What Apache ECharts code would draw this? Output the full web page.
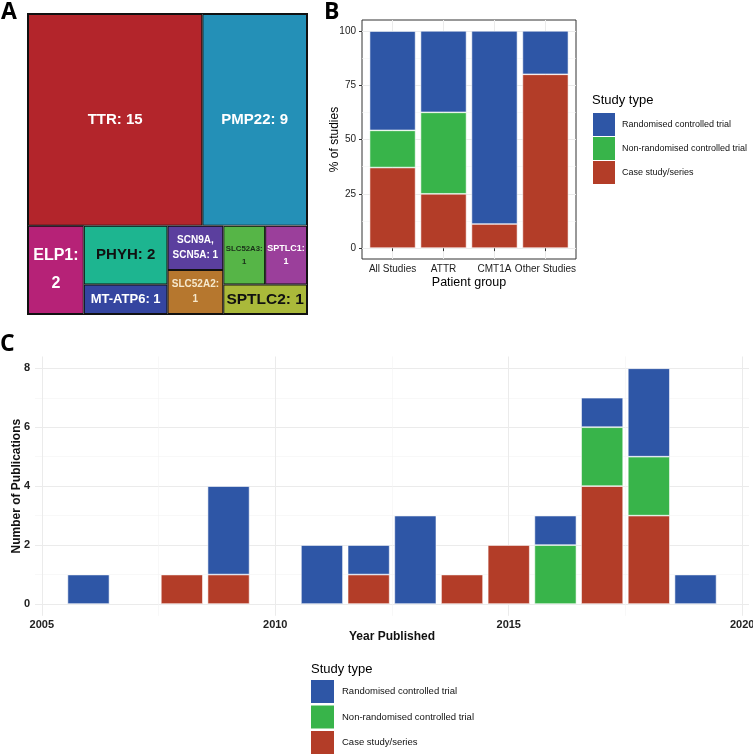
<!DOCTYPE html>
<html lang="en">
<head>
    <meta charset="UTF-8">
    <title>Studies by gene, patient group and year</title>
    <script src="https://cdn.jsdelivr.net/npm/echarts@6/dist/echarts.min.js"></script>
    <style>
        html, body { margin: 0; padding: 0; background: #fff; }
        #main { width: 753px; height: 755px; }
    </style>
</head>
<body>
<div id="main"></div>
<script type="text/javascript">
    // A: number of studies per gene
    var genes = ['TTR', 'PMP22', 'ELP1', 'PHYH', 'MT-ATP6', 'SCN9A, SCN5A', 'SLC52A2', 'SLC52A3', 'SPTLC1', 'SPTLC2'];
    var geneStudies = [15, 9, 2, 2, 1, 1, 1, 1, 1, 1];
    // nesting of the tiles (indexes into genes), so the squarify gives the same rows as the figure
    var tiling = [[0, 1], [2, [3, 4], [5, 6], [[7, 8], 9]]];

    // B: % of studies by patient group
    var patientGroups = ['All Studies', 'ATTR', 'CMT1A', 'Other Studies'];
    var pctRct = [45.7, 37.5, 88.9, 20];
    var pctNonRct = [17.1, 37.5, 0, 0];
    var pctCase = [37.1, 25, 11.1, 80];
    var pctTicks = [0, 25, 50, 75, 100];

    // C: publications per year
    var years = [2006, 2008, 2009, 2011, 2012, 2013, 2014, 2015, 2016, 2017, 2018, 2019];
    var pubRct = [1, 0, 3, 2, 1, 3, 0, 0, 1, 1, 3, 1];
    var pubNonRct = [0, 0, 0, 0, 0, 0, 0, 0, 2, 2, 2, 0];
    var pubCase = [0, 1, 1, 0, 1, 0, 1, 2, 0, 4, 3, 0];
    var yearTicks = [2005, 2010, 2015, 2020];
    var pubTicks = [0, 2, 4, 6, 8];

    var studyTypes = ['Randomised controlled trial', 'Non-randomised controlled trial', 'Case study/series'];

    var FONT = 'Liberation Sans';
    var typeColors = {
        'Randomised controlled trial': '#2E56A6',
        'Non-randomised controlled trial': '#38B44A',
        'Case study/series': '#B33D28'
    };

    // tile colours / label look
    var tileStyle = {
        'TTR': {color: '#B3252B', size: 15, text: '#fff'},
        'PMP22': {color: '#2490B7', size: 15, text: '#fff'},
        'ELP1': {color: '#B62277', size: 16, text: '#fff', wrap: true, lh: 28},
        'PHYH': {color: '#1DB590', size: 15, text: '#111'},
        'MT-ATP6': {color: '#3545A0', size: 13, text: '#fff'},
        'SCN9A, SCN5A': {color: '#5B3F9E', size: 10, text: '#fff', lh: 15},
        'SLC52A2': {color: '#B6772E', size: 10, text: '#F6E8CC', wrap: true, lh: 15},
        'SLC52A3': {color: '#56B547', size: 7.8, text: '#1A2E1A', wrap: true, lh: 13},
        'SPTLC1': {color: '#9B3F9B', size: 9, text: '#fff', wrap: true, lh: 13},
        'SPTLC2': {color: '#AAB93A', size: 15.5, text: '#111'}
    };

    function buildNode(t) {
        if (Array.isArray(t)) {
            return {name: '', children: t.map(buildNode), itemStyle: {borderWidth: 0, gapWidth: 0}};
        }
        var s = tileStyle[genes[t]];
        return {
            name: genes[t],
            value: geneStudies[t],
            itemStyle: {color: s.color, borderColor: '#111', borderWidth: 1},
            label: {fontSize: s.size, color: s.text, lineHeight: s.lh || s.size * 1.3}
        };
    }

    function tileLabel(p) {
        var s = tileStyle[p.name];
        if (!s) return '';
        if (p.name.indexOf(', ') > 0) return p.name.replace(', ', ',\n') + ': ' + p.value;
        return p.name + ':' + (s.wrap ? '\n' : ' ') + p.value;
    }

    // [value, position] rows; value first so the stack sums the value, zero -> no bar
    function rows(xs, vals) {
        return xs.map(function (x, i) { return [vals[i] > 0 ? vals[i] : null, x]; });
    }

    var groupPos = patientGroups.map(function (g, i) { return i + 1; });

    function barSeries(name, xi, yi, stack, data, width) {
        return {
            name: name, type: 'bar', xAxisIndex: xi, yAxisIndex: yi, stack: stack,
            encode: {x: 1, y: 0},
            barWidth: width, data: data,
            itemStyle: {color: typeColors[name], borderColor: 'rgba(255,255,255,0.8)', borderWidth: 0.7},
            emphasis: {disabled: true}
        };
    }

    var gridLine = {show: true, lineStyle: {color: '#EBEBEB', width: 1}};
    var minorLine = {show: true, lineStyle: {color: '#F4F4F4', width: 0.6}};

    var myChart = echarts.init(document.getElementById('main'));

    var option = {
        animation: false,
        backgroundColor: '#fff',
        textStyle: {fontFamily: FONT},
        grid: [
            {left: 362, top: 20, width: 214, height: 239, show: true, borderColor: '#333', borderWidth: 1, outerBoundsMode: 'none'},
            {left: 35, top: 356.5, width: 714, height: 259.3, outerBoundsMode: 'none'}
        ],
        xAxis: [
            {
                gridIndex: 0, type: 'value', min: 0.4, max: 4.6,
                axisLine: {show: false},
                axisTick: {show: true, length: 3, customValues: groupPos, lineStyle: {color: '#333'}},
                axisLabel: {
                    customValues: groupPos, margin: 5, fontSize: 10, color: '#222', fontFamily: FONT,
                    formatter: function (v) { return patientGroups[v - 1]; }
                },
                splitLine: gridLine,
                name: 'Patient group', nameLocation: 'middle', nameGap: 17, nameMoveOverlap: false,
                nameTextStyle: {fontSize: 12.5, color: '#000', fontFamily: FONT}
            },
            {
                gridIndex: 1, type: 'value', min: 2004.855, max: 2020.145, splitNumber: 3,
                axisLine: {show: false},
                axisTick: {show: false, customValues: yearTicks},
                axisLabel: {
                    customValues: yearTicks, margin: 4, fontSize: 11, fontWeight: 'bold', color: '#222', fontFamily: FONT,
                    formatter: function (v) { return String(v); }
                },
                splitLine: gridLine,
                minorTick: {show: false, splitNumber: 2},
                minorSplitLine: minorLine,
                name: 'Year Published', nameLocation: 'middle', nameGap: 15, nameMoveOverlap: false,
                nameTextStyle: {fontSize: 12, fontWeight: 'bold', color: '#111', fontFamily: FONT}
            }
        ],
        yAxis: [
            {
                gridIndex: 0, type: 'value', min: -5, max: 105,
                axisLine: {show: false},
                axisTick: {show: true, length: 3, customValues: pctTicks, lineStyle: {color: '#333'}},
                axisLabel: {customValues: pctTicks, margin: 6, fontSize: 10, color: '#222', fontFamily: FONT},
                splitLine: gridLine,
                name: '% of studies', nameLocation: 'middle', nameGap: 21, nameMoveOverlap: false,
                nameTextStyle: {fontSize: 12, color: '#000', fontFamily: FONT}
            },
            {
                gridIndex: 1, type: 'value', min: -0.4, max: 8.4,
                axisLine: {show: false},
                axisTick: {show: false, customValues: pubTicks},
                axisLabel: {customValues: pubTicks, margin: 5, fontSize: 11, fontWeight: 'bold', color: '#222', fontFamily: FONT},
                splitLine: gridLine,
                minorTick: {show: false, splitNumber: 2},
                minorSplitLine: minorLine,
                name: 'Number of Publications', nameLocation: 'middle', nameGap: 12, nameMoveOverlap: false,
                nameTextStyle: {fontSize: 12, fontWeight: 'bold', color: '#111', fontFamily: FONT}
            },
            {
                // helper axis for the minor gridlines of B (12.5, 37.5, 62.5, 87.5), in units of 25 offset by 12.5
                gridIndex: 0, type: 'value', min: -0.7, max: 3.7,
                axisLine: {show: false}, axisTick: {show: false}, axisLabel: {show: false},
                splitLine: {show: true, showMinLine: false, showMaxLine: false, lineStyle: {color: '#F4F4F4', width: 0.6}}
            }
        ],
        legend: [
            {
                data: studyTypes, orient: 'vertical', left: 593, top: 113, padding: 0, height: 120,
                icon: 'rect', itemWidth: 22, itemHeight: 23, itemGap: 1, selectedMode: false,
                itemStyle: {borderWidth: 0},
                textStyle: {fontSize: 9, color: '#111', fontFamily: FONT, padding: [0, 0, 0, 2]}
            },
            {
                data: studyTypes, orient: 'vertical', left: 311, top: 680, padding: 0, height: 120,
                icon: 'rect', itemWidth: 23, itemHeight: 23, itemGap: 2.5, selectedMode: false,
                itemStyle: {borderWidth: 0},
                textStyle: {fontSize: 9.5, color: '#111', fontFamily: FONT, padding: [0, 0, 0, 3]}
            }
        ],
        graphic: [
            {type: 'text', left: 1, top: 1, style: {text: 'A', font: 'bold 23px "Open Sans"', fill: '#000'}},
            {type: 'text', left: 324, top: 1, style: {text: 'B', font: 'bold 23px "Open Sans"', fill: '#000'}},
            {type: 'text', left: 0, top: 333, style: {text: 'C', font: 'bold 23px "Open Sans"', fill: '#000'}},
            {type: 'text', left: 592, top: 94, style: {text: 'Study type', font: '13px "Liberation Sans"', fill: '#000'}},
            {type: 'text', left: 311, top: 663, style: {text: 'Study type', font: '13px "Liberation Sans"', fill: '#000'}}
        ],
        series: [
            {
                type: 'treemap',
                left: 27, top: 13, width: 281, height: 302,
                squareRatio: 1,
                sort: false,
                roam: false,
                nodeClick: false,
                breadcrumb: {show: false},
                visibleMin: 0,
                emphasis: {disabled: true},
                levels: [
                    {itemStyle: {borderWidth: 1, borderColor: '#111', gapWidth: 0}},
                    {itemStyle: {borderWidth: 0, gapWidth: 0}},
                    {itemStyle: {borderWidth: 0, gapWidth: 0}},
                    {itemStyle: {borderWidth: 0, gapWidth: 0}}
                ],
                label: {
                    show: true, position: 'inside', align: 'center', verticalAlign: 'middle',
                    fontWeight: 'bold', fontFamily: FONT, overflow: 'none', padding: 0,
                    formatter: tileLabel
                },
                data: tiling.map(buildNode)
            },
            barSeries(studyTypes[2], 0, 0, 'pct', rows(groupPos, pctCase), 46),
            barSeries(studyTypes[1], 0, 0, 'pct', rows(groupPos, pctNonRct), 46),
            barSeries(studyTypes[0], 0, 0, 'pct', rows(groupPos, pctRct), 46),
            barSeries(studyTypes[2], 1, 1, 'pub', rows(years, pubCase), 42),
            barSeries(studyTypes[1], 1, 1, 'pub', rows(years, pubNonRct), 42),
            barSeries(studyTypes[0], 1, 1, 'pub', rows(years, pubRct), 42)
        ]
    };

    myChart.setOption(option);
</script>
</body>
</html>
